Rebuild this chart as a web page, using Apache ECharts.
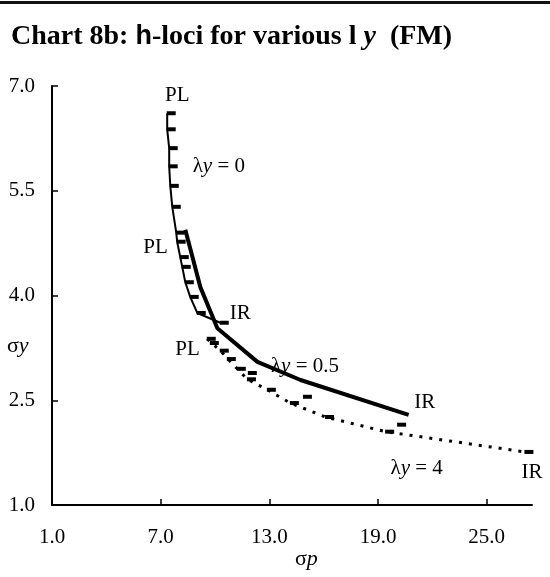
<!DOCTYPE html>
<html>
<head>
<meta charset="utf-8">
<script src="https://cdn.jsdelivr.net/npm/echarts@6/dist/echarts.min.js"></script>
<style>
  html, body { margin: 0; padding: 0; background: #fff; }
  #chart8b { width: 550px; height: 577px; }
</style>
</head>
<body>
<div id="chart8b"></div>
<script>
// values (sigma p, sigma y)
var lam0X = [7.36, 7.36, 7.47, 7.47, 7.53, 7.64, 7.86, 7.91, 8.08, 8.19, 8.36, 8.63, 9.02, 10.29];
var lam0Y = [6.61, 6.38, 6.11, 5.85, 5.57, 5.27, 4.90, 4.77, 4.55, 4.41, 4.19, 3.98, 3.75, 3.61];

var lam05X = [8.36, 9.19, 10.13, 12.34, 14.72, 20.69];
var lam05Y = [4.94, 4.12, 3.53, 3.05, 2.79, 2.29];

var lam4X = [9.57, 10.29, 11.23, 11.79, 12.89, 14.16, 16.10, 19.42, 27.11];
var lam4Y = [3.38, 3.21, 2.95, 2.80, 2.65, 2.46, 2.26, 2.05, 1.76];

// loose dash markers with no line through them
var extraX = [9.74, 10.68, 11.84, 14.88, 20.08];
var extraY = [3.32, 3.09, 2.89, 2.55, 2.15];

var xTicks = [1, 7, 13, 19, 25];

var serif = "'Liberation Serif', 'Times New Roman', serif";
var lblRich = {
  n: { fontFamily: serif, fontSize: 21, color: "#000" },
  i: { fontFamily: serif, fontSize: 21, fontStyle: "italic", color: "#000" }
};

function pairs(xs, ys) {
  return xs.map(function (x, k) { return { value: [x, ys[k]] }; });
}

// put a text label on one data item
function tag(data, idx, text, position, offset) {
  data[idx].label = {
    show: true,
    formatter: text,
    position: position,
    offset: offset,
    rich: lblRich
  };
}

var d0 = pairs(lam0X, lam0Y);
tag(d0, 0, "{n|PL}", "top", [6, 0]);
tag(d0, 3, "{n|λ}{i|y}{n| = 0}", "right", [10, 0]);
tag(d0, d0.length - 1, "{n|IR}", "right", [-4, -9]);

var d05 = pairs(lam05X, lam05Y);
tag(d05, 0, "{n|PL}", "left", [-12, 18]);
tag(d05, 3, "{n|λ}{i|y}{n| = 0.5}", "right", [8, 5]);
tag(d05, d05.length - 1, "{n|IR}", "right", [0, -12]);

var d4 = pairs(lam4X, lam4Y);
tag(d4, 0, "{n|PL}", "left", [-2, 11]);
tag(d4, 7, "{n|λ}{i|y}{n| = 4}", "bottom", [27, 19]);
tag(d4, d4.length - 1, "{n|IR}", "bottom", [3, 3]);

var dash = { symbol: "rect", symbolSize: [9, 4], symbolOffset: [4, 0] };

var chart = echarts.init(document.getElementById("chart8b"));
var option = {
  animation: false,
  backgroundColor: "#fff",
  title: {
    left: 6,
    top: 18,
    text: "{b|Chart 8b: }{h|h}{b|-loci for various }{l|l}{y| y}{b|  (FM)}",
    textStyle: {
      rich: {
        b: { fontFamily: serif, fontWeight: "bold", fontSize: 28, color: "#000" },
        h: { fontFamily: "'Liberation Sans', sans-serif", fontSize: 27, color: "#000" },
        l: { fontFamily: serif, fontSize: 28, color: "#000" },
        y: { fontFamily: serif, fontWeight: "bold", fontStyle: "italic", fontSize: 28, color: "#000" }
      }
    }
  },
  graphic: [
    { type: "rect", shape: { x: 0, y: 1, width: 550, height: 3 }, style: { fill: "#111" } },
    {
      type: "text", left: 7, top: 335,
      style: { text: "{s|σ}{i|y}", rich: { s: { fontFamily: serif, fontSize: 22 }, i: { fontFamily: serif, fontSize: 22, fontStyle: "italic" } } }
    },
    {
      type: "text", left: 295, top: 548,
      style: { text: "{s|σ}{i|p}", rich: { s: { fontFamily: serif, fontSize: 22 }, i: { fontFamily: serif, fontSize: 22, fontStyle: "italic" } } }
    }
  ],
  grid: { left: 52, top: 86, right: 18, bottom: 72 },
  xAxis: {
    type: "value",
    min: 1,
    max: 27.5,
    interval: 6,
    axisLine: { lineStyle: { color: "#000", width: 2 } },
    axisTick: { inside: true, length: 6, customValues: xTicks, lineStyle: { color: "#000", width: 1.5 } },
    axisLabel: {
      customValues: xTicks,
      margin: 22,
      fontFamily: serif,
      fontSize: 21,
      color: "#000",
      formatter: function (v) { return v.toFixed(1); }
    },
    splitLine: { show: false }
  },
  yAxis: {
    type: "value",
    min: 1,
    max: 7,
    interval: 1.5,
    axisLine: { show: true, lineStyle: { color: "#000", width: 2 } },
    axisTick: { show: true, inside: true, length: 6, lineStyle: { color: "#000", width: 1.5 } },
    axisLabel: {
      margin: 17,
      fontFamily: serif,
      fontSize: 21,
      color: "#000",
      formatter: function (v) { return v.toFixed(1); }
    },
    splitLine: { show: false }
  },
  series: [
    {
      name: "λy = 0",
      type: "line",
      data: d0,
      symbol: dash.symbol,
      symbolSize: dash.symbolSize,
      symbolOffset: dash.symbolOffset,
      itemStyle: { color: "#000" },
      lineStyle: { color: "#000", width: 2 }
    },
    {
      name: "λy = 0.5",
      type: "line",
      data: d05,
      symbol: "circle",
      symbolSize: 1,
      itemStyle: { color: "rgba(0,0,0,0)" },
      lineStyle: { color: "#000", width: 4 }
    },
    {
      name: "λy = 4",
      type: "line",
      data: d4,
      symbol: dash.symbol,
      symbolSize: dash.symbolSize,
      symbolOffset: dash.symbolOffset,
      itemStyle: { color: "#000" },
      lineStyle: { color: "#000", width: 3, type: [3, 7] }
    },
    {
      name: "marks",
      type: "scatter",
      data: pairs(extraX, extraY),
      symbol: dash.symbol,
      symbolSize: dash.symbolSize,
      symbolOffset: dash.symbolOffset,
      itemStyle: { color: "#000", opacity: 1 }
    }
  ]
};
chart.setOption(option);
</script>
</body>
</html>
